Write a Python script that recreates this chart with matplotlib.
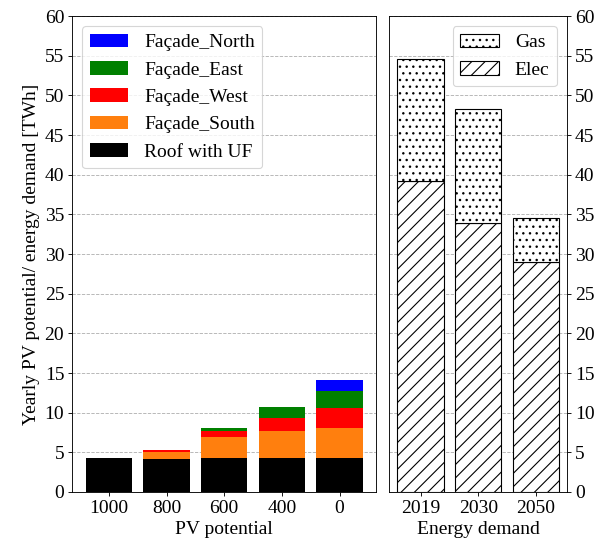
import numpy as np
import matplotlib

matplotlib.use("Agg")
import matplotlib.pyplot as plt

plt.rcParams['font.family'] = ['Liberation Serif', 'DejaVu Serif']
plt.rcParams['font.size'] = 17.5

# Potentiel PV par scénario (TWh)
scenarios = ['1000', '800', '600', '400', '0']
roof = [4.3, 4.2, 4.3, 4.3, 4.3]
south = [0.0, 0.8, 2.66, 3.34, 3.8]
west = [0.0, 0.3, 0.72, 1.64, 2.45]
east = [0.0, 0.0, 0.38, 1.44, 2.19]
north = [0.0, 0.0, 0.0, 0.0, 1.35]

# Demande énergétique (TWh)
years = ['2019', '2030', '2050']
elec = [39.2, 33.9, 29.0]
gas = [15.4, 14.4, 5.5]

fig, (ax1, ax2) = plt.subplots(1, 2, figsize=(7.5, 6.75), dpi=80,
                               gridspec_kw={'width_ratios': [5.28, 3.08]})
fig.subplots_adjust(left=0.12, right=0.945, top=0.970, bottom=0.089, wspace=0.054)

x1 = np.arange(len(scenarios))
couches = [('Roof with UF', roof, 'black'),
           ('Façade_South', south, 'tab:orange'),
           ('Façade_West', west, 'red'),
           ('Façade_East', east, 'green'),
           ('Façade_North', north, 'blue')]
bas = np.zeros(len(scenarios))
for nom, vals, col in couches:
    ax1.bar(x1, vals, 0.8, bottom=bas, color=col, label=nom, zorder=3)
    bas += np.array(vals)

ax1.set_xticks(x1)
ax1.set_xticklabels(scenarios)
ax1.set_xlabel('PV potential')
ax1.set_ylabel('Yearly PV potential/ energy demand [TWh]')
ax1.set_ylim(0, 60)
ax1.set_yticks(range(0, 61, 5))
ax1.yaxis.grid(True, linestyle='--', color='gray', alpha=0.6, zorder=0)
ax1.set_axisbelow(True)
h, l = ax1.get_legend_handles_labels()
ax1.legend(h[::-1], l[::-1], loc='upper left')

x2 = np.arange(len(years))
ax2.bar(x2, elec, 0.8, color='white', edgecolor='black', hatch='//', label='Elec', zorder=3)
ax2.bar(x2, gas, 0.8, bottom=elec, color='white', edgecolor='black', hatch='..', label='Gas', zorder=3)
ax2.set_xticks(x2)
ax2.set_xticklabels(years)
ax2.set_xlabel('Energy demand')
ax2.set_ylim(0, 60)
ax2.set_yticks(range(0, 61, 5))
ax2.yaxis.tick_right()
ax2.yaxis.grid(True, linestyle='--', color='gray', alpha=0.6, zorder=0)
ax2.set_axisbelow(True)
h, l = ax2.get_legend_handles_labels()
ax2.legend(h[::-1], l[::-1], loc='upper right')

plt.savefig('out.png')
